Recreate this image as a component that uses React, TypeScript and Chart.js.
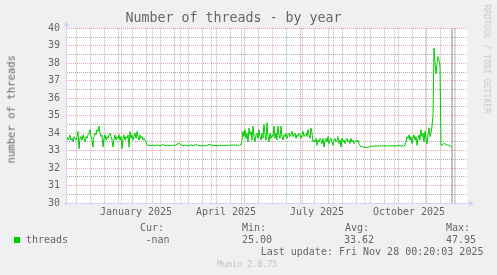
import React, { useEffect, useRef } from 'react';
import { Chart, registerables } from 'chart.js';

Chart.register(...registerables);

// ---------- data (x = days relative to last update, Fri Nov 28 2025) ----------
const X_MIN = -385;
const X_MAX = 15;
const Y_MIN = 30;
const Y_MAX = 40;
const FIRST_DAY = -385;
const LAST_UPDATE_DAY = 0;

const monthStartDays = [-362, -331, -300, -272, -241, -211, -180, -150, -119, -88, -58, -27, 3];
const minorGridDays = [-376, -362, -348, -334, -320, -306, -292, -278, -264, -250, -236, -222, -208, -194, -180, -166, -152, -138, -124, -110, -96, -82, -68, -54, -40, -26, -12, 2];
const labelDays = [-316, -226, -135, -43];
const labelTexts = ['January 2025', 'April 2025', 'July 2025', 'October 2025'];
const yTickValues = [30, 30.5, 31, 31.5, 32, 32.5, 33, 33.5, 34, 34.5, 35, 35.5, 36, 36.5, 37, 37.5, 38, 38.5, 39, 39.5, 40];

// Nov 2024 - Jan 2025 (noisy)
const threadsNovJan = [
  33.8, 33.6, 33.7, 33.9, 33.6, 33.7, 33.5, 33.8, 33.7, 33.6,
  33.8, 34.1, 33.1, 33.7, 33.8, 33.6, 33.9, 33.7, 33.5, 33.8,
  33.7, 33.9, 34.0, 34.2, 33.8, 33.6, 33.2, 33.8, 34.0, 33.9,
  34.2, 34.1, 34.4, 34.0, 33.8, 33.9, 33.2, 33.7, 33.9, 33.6,
  33.8, 33.7, 33.9, 34.0, 33.8, 33.6, 33.2, 33.7, 33.9, 33.6,
  33.8, 33.7, 33.9, 33.6, 33.8, 33.1, 33.7, 33.9, 33.6, 33.8,
  33.7, 33.9, 33.2, 34.1, 33.7, 33.9, 33.6, 33.8, 34.0, 33.7,
  34.1, 33.8, 33.6, 33.9, 33.7, 33.8, 33.6, 33.7, 33.6, 33.5,
];
// Jan - Apr 2025 (flat)
const threadsJanApr = [
  33.32, 33.30, 33.31, 33.30, 33.28, 33.30, 33.31, 33.30, 33.29, 33.30,
  33.31, 33.33, 33.30, 33.29, 33.30, 33.32, 33.34, 33.31, 33.30, 33.29,
  33.30, 33.31, 33.30, 33.28, 33.30, 33.31, 33.30, 33.29, 33.31, 33.33,
  33.36, 33.40, 33.42, 33.37, 33.33, 33.30, 33.28, 33.30, 33.32, 33.30,
  33.27, 33.29, 33.30, 33.31, 33.33, 33.30, 33.28, 33.30, 33.31, 33.36,
  33.32, 33.29, 33.30, 33.28, 33.26, 33.28, 33.30, 33.27, 33.28, 33.30,
  33.29, 33.33, 33.36, 33.31, 33.35, 33.30, 33.28, 33.29, 33.30, 33.28,
  33.27, 33.29, 33.30, 33.28, 33.30, 33.31, 33.29, 33.28, 33.30, 33.32,
  33.30, 33.29, 33.31, 33.30, 33.32, 33.33, 33.30, 33.31, 33.34, 33.30,
  33.32, 33.30, 33.28, 33.35, 33.33,
];
// Apr - Jul 2025 (noisy, higher)
const threadsAprJul = [
  33.6, 34.1, 33.8, 34.2, 33.7, 34.0, 33.5, 34.3, 33.9, 34.1,
  33.6, 34.4, 33.8, 33.5, 33.9, 34.0, 33.7, 34.2, 33.8, 33.6,
  34.0, 33.7, 34.5, 33.9, 33.6, 34.6, 33.8, 33.5, 34.0, 33.7,
  33.9, 33.8, 34.4, 33.7, 34.0, 33.6, 34.4, 33.9, 33.7, 34.4,
  33.8, 33.6, 33.9, 33.8, 34.0, 33.7, 33.9, 34.0, 33.8, 33.9,
  34.1, 33.8, 33.9, 34.0, 33.7, 33.9, 33.8, 34.0, 33.9, 33.7,
  33.9, 34.1, 33.8, 33.9, 34.0, 33.8, 34.2, 33.9, 33.7, 34.3,
  34.0, 33.5, 33.6, 33.5,
];
// Jul - Sep 2025 (noisy, lower)
const threadsJulSep = [
  33.7, 33.3, 33.6, 33.5, 33.7, 33.6, 33.4, 33.7, 33.2, 33.6,
  33.7, 33.5, 33.8, 33.4, 33.6, 33.7, 33.5, 33.3, 33.6, 33.7,
  33.5, 33.6, 33.8, 33.4, 33.6, 33.2, 33.7, 33.5, 33.6, 33.4,
  33.6, 33.7, 33.5, 33.6, 33.4, 33.7, 33.5, 33.6, 33.4, 33.5,
  33.6, 33.5, 33.6, 33.4,
];
// Sep - Oct 2025 (flat)
const threadsSepOct = [
  33.28, 33.25, 33.22, 33.20, 33.19, 33.18, 33.20, 33.19, 33.18, 33.21,
  33.24, 33.25, 33.26, 33.25, 33.27, 33.26, 33.27, 33.25, 33.26, 33.28,
  33.27, 33.26, 33.27, 33.28, 33.26, 33.27, 33.26, 33.28, 33.27, 33.26,
  33.28, 33.27, 33.29, 33.27, 33.26, 33.28, 33.27, 33.26, 33.28, 33.30,
  33.27, 33.26, 33.28, 33.27, 33.26, 33.28,
];
// Oct - Nov 2025 (noisy)
const threadsOctNov = [
  33.5, 33.8, 33.7, 33.9, 33.6, 33.8, 33.4, 33.7, 33.9, 33.6,
  33.8, 33.3, 33.7, 33.9, 33.6, 34.2, 33.8, 34.0, 33.5, 34.1,
  33.7, 33.4, 33.9, 34.3, 33.8, 34.0, 34.4,
];
// Nov 2025 (spike and end)
const threadsNovEnd = [
  35.0, 38.86, 38.0, 37.4, 38.0, 38.38, 38.2, 37.8, 33.3, 33.32,
  33.35, 33.42, 33.38, 33.35, 33.33, 33.32, 33.3, 33.26, 33.2, 33.18,
];

const legendName = 'threads';
const legendHeads = ['Cur:', 'Min:', 'Avg:', 'Max:'];
const legendValues = ['-nan', '25.00', '33.62', '47.95'];
const lastUpdateText = 'Last update: Fri Nov 28 00:20:03 2025';

// ---------- styles ----------
const W = 497;
const H = 275;
const MONO = "'DejaVu Sans Mono', monospace";
const FONT_COLOR = '#666666';
const GREEN = '#00CC00';
const MGRID = 'rgba(222,79,79,0.5)';
const GRID = 'rgba(143,143,143,0.7)';
const AXIS = '#CFD6F8';

const frame = {
  id: 'munFrame',
  beforeDraw(chart: any) {
    const { ctx, chartArea: a } = chart;
    ctx.save();
    ctx.fillStyle = '#F0F0F0';
    ctx.fillRect(0, 0, chart.width, chart.height);
    ctx.fillStyle = '#FFFFFF';
    ctx.fillRect(a.left, a.top, a.right - a.left, a.bottom - a.top);
    ctx.restore();
  },
  afterDatasetsDraw(chart: any) {
    const { ctx, chartArea: a } = chart;
    ctx.save();
    ctx.strokeStyle = AXIS;
    ctx.fillStyle = AXIS;
    ctx.lineWidth = 1;
    const x0 = Math.round(a.left) - 0.5;
    const y0 = Math.round(a.bottom) + 0.5;
    ctx.beginPath();
    ctx.moveTo(x0, a.bottom + 3);
    ctx.lineTo(x0, a.top - 3);
    ctx.moveTo(a.left - 3, y0);
    ctx.lineTo(a.right + 3, y0);
    ctx.stroke();
    ctx.beginPath();
    ctx.moveTo(x0, a.top - 7);
    ctx.lineTo(x0 - 3, a.top - 2);
    ctx.lineTo(x0 + 3, a.top - 2);
    ctx.closePath();
    ctx.fill();
    ctx.beginPath();
    ctx.moveTo(a.right + 7, y0);
    ctx.lineTo(a.right + 2, y0 - 3);
    ctx.lineTo(a.right + 2, y0 + 3);
    ctx.closePath();
    ctx.fill();
    ctx.restore();
  },
};

const abs = (left: number, top: number, size: number, color = FONT_COLOR): React.CSSProperties => ({
  position: 'absolute',
  left,
  top,
  fontFamily: MONO,
  fontSize: size,
  lineHeight: 1,
  color,
  whiteSpace: 'pre',
});

export default function App() {
  const ref = useRef<HTMLCanvasElement | null>(null);

  useEffect(() => {
    if (!ref.current) return;
    const series = [
      ...threadsNovJan,
      ...threadsJanApr,
      ...threadsAprJul,
      ...threadsJulSep,
      ...threadsSepOct,
      ...threadsOctNov,
      ...threadsNovEnd,
    ];
    const points = series.map((v, i) => ({ x: FIRST_DAY + i, y: v }));
    const majorX = new Set(monthStartDays);
    const minorX = new Set(minorGridDays);
    const labelMap = new Map<number, string>();
    labelDays.forEach((d, i) => labelMap.set(d, labelTexts[i]));

    const chart = new Chart(ref.current, {
      type: 'line',
      data: {
        datasets: [
          {
            data: points,
            borderColor: GREEN,
            borderWidth: 1,
            pointRadius: 0,
            tension: 0,
            fill: false,
          },
          {
            data: [
              { x: LAST_UPDATE_DAY, y: Y_MIN },
              { x: LAST_UPDATE_DAY, y: Y_MAX },
            ],
            borderColor: '#888888',
            borderWidth: 1,
            pointRadius: 0,
            fill: false,
          },
        ],
      },
      options: {
        animation: false,
        responsive: false,
        devicePixelRatio: 1,
        events: [],
        layout: { padding: { top: 0, left: 0, right: 30, bottom: 52 } },
        plugins: {
          legend: { display: false },
          tooltip: { enabled: false },
          title: {
            display: true,
            text: 'Number of threads - by year',
            color: FONT_COLOR,
            font: { family: MONO, size: 13.3, weight: 'normal' },
            padding: { top: 11, bottom: 1.4 },
          },
        },
        scales: {
          x: {
            type: 'linear',
            min: X_MIN,
            max: X_MAX,
            afterFit: (s: any) => {
              s.height = 20;
            },
            afterBuildTicks: (s: any) => {
              const vals = new Set<number>([...minorGridDays, ...monthStartDays, ...labelDays]);
              s.ticks = [...vals]
                .filter((v) => v >= X_MIN && v <= X_MAX)
                .sort((a, b) => a - b)
                .map((v) => ({ value: v }));
            },
            ticks: {
              autoSkip: false,
              maxRotation: 0,
              minRotation: 0,
              padding: 3,
              color: FONT_COLOR,
              font: { family: MONO, size: 10 },
              callback: (v: any) => labelMap.get(Number(v)) ?? '',
            },
            grid: {
              drawTicks: false,
              lineWidth: 1,
              color: (c: any) => {
                const v = c.tick ? c.tick.value : NaN;
                if (majorX.has(v)) return MGRID;
                if (minorX.has(v)) return GRID;
                return 'rgba(0,0,0,0)';
              },
            },
            border: { display: false, dash: [1, 1] },
          },
          y: {
            type: 'linear',
            min: Y_MIN,
            max: Y_MAX,
            afterFit: (s: any) => {
              s.width = 67;
            },
            afterBuildTicks: (s: any) => {
              s.ticks = yTickValues.map((v) => ({ value: v }));
            },
            ticks: {
              autoSkip: false,
              padding: 7,
              color: FONT_COLOR,
              font: { family: MONO, size: 10 },
              callback: (v: any) => (Number.isInteger(Number(v)) ? String(v) : ''),
            },
            grid: {
              drawTicks: false,
              lineWidth: 1,
              color: (c: any) => {
                const v = c.tick ? c.tick.value : NaN;
                return Number.isInteger(v) ? MGRID : GRID;
              },
            },
            border: { display: false, dash: [1, 1] },
          },
        },
      },
      plugins: [frame],
    } as any);
    return () => chart.destroy();
  }, []);

  const headX = [140, 242, 345, 446];
  const valX = [145.5, 242, 344, 446];

  return (
    <div style={{ position: 'absolute', left: 0, top: 0, width: W, height: H, background: '#F0F0F0', overflow: 'hidden' }}>
      <canvas ref={ref} width={W} height={H} style={{ display: 'block', width: W, height: H }} />
      <div
        style={{
          ...abs(11 - 60, 109 - 5.3, 10.6),
          width: 120,
          textAlign: 'center',
          transform: 'rotate(-90deg)',
          transformOrigin: '50% 50%',
        }}
      >
        number of threads
      </div>
      <div
        style={{
          ...abs(487 - 60, 59 - 4.1, 8.2, '#C8C8C8'),
          width: 120,
          textAlign: 'center',
          transform: 'rotate(90deg)',
          transformOrigin: '50% 50%',
        }}
      >
        RRDTOOL / TOBI OETIKER
      </div>
      {legendHeads.map((t, i) => (
        <div key={t} style={abs(headX[i], 223, 10)}>{t}</div>
      ))}
      <div style={{ position: 'absolute', left: 14, top: 237.3, width: 6, height: 6, background: GREEN }} />
      <div style={abs(26, 235, 10)}>{legendName}</div>
      {legendValues.map((t, i) => (
        <div key={t} style={abs(valX[i], 235, 10)}>{t}</div>
      ))}
      <div style={abs(260.7, 247, 10)}>{lastUpdateText}</div>
      <div style={abs(217.3, 260.3, 8.3, '#C0C0C0')}>Munin 2.0.75</div>
    </div>
  );
}
